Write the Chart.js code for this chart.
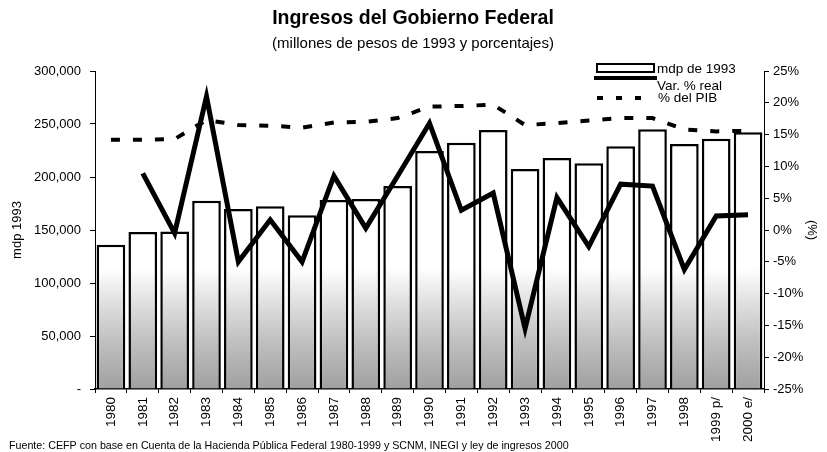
<!DOCTYPE html>
<html>
<head>
<meta charset="utf-8">
<script src="https://cdn.jsdelivr.net/npm/chart.js@4/dist/chart.umd.min.js"></script>
<style>
html,body{margin:0;padding:0;background:#fff;}
#wrap{width:827px;height:452px;position:relative;}
</style>
</head>
<body>
<div id="wrap"><canvas id="c" width="827" height="452"></canvas></div>
<script>
const categories = ['1980','1981','1982','1983','1984','1985','1986','1987','1988','1989','1990','1991','1992','1993','1994','1995','1996','1997','1998','1999 p/','2000 e/'];
const mdp1993 = [136000,148000,148500,177600,169800,172300,163800,178300,179200,191500,224500,232400,244300,207500,217900,212900,229000,245000,231100,236100,242100];
const varReal = [null,8.9,-0.5,21.0,-5.0,1.6,-5.0,8.5,0.3,8.5,16.8,3.1,5.8,-15.5,5.1,-2.6,7.2,6.9,-6.2,2.2,2.4];
const pctPIB = [14.2,14.2,14.3,17.3,16.5,16.4,16.1,16.9,17.0,17.6,19.4,19.5,19.7,16.5,16.8,17.2,17.6,17.6,15.8,15.5,15.6];
const leftTicks = [0,50000,100000,150000,200000,250000,300000];
const rightTicks = [-25,-20,-15,-10,-5,0,5,10,15,20,25];

const FONT = "Arial, 'Liberation Sans', sans-serif";
const titleText = 'Ingresos del Gobierno Federal';
const subtitleText = '(millones de pesos de 1993 y porcentajes)';
const sourceText = 'Fuente: CEFP con base en Cuenta de la Hacienda Pública Federal 1980-1999 y SCNM, INEGI y ley de ingresos 2000';
const legendLabels = ['mdp de 1993','Var. % real','% del PIB'];

function barFill(ctx){
  const chart = ctx.chart;
  const a = chart.chartArea;
  if(!a) return '#ffffff';
  const g = chart.ctx.createLinearGradient(0, a.top, 0, a.bottom);
  g.addColorStop(0, '#ffffff');
  g.addColorStop(0.62, '#ffffff');
  g.addColorStop(0.72, '#e2e2e2');
  g.addColorStop(0.85, '#c0c0c0');
  g.addColorStop(1, '#a0a0a0');
  return g;
}

const extras = {
  id:'extras',
  afterDraw(chart){
    const c = chart.ctx;
    c.save();
    c.fillStyle = '#000';
    c.textAlign = 'center';
    c.textBaseline = 'middle';
    c.font = 'bold 19.5px ' + FONT;
    c.fillText(titleText, 413, 19);
    c.font = '15px ' + FONT;
    c.fillText(subtitleText, 413, 44);
    // source
    c.textAlign = 'left';
    c.font = '10.7px ' + FONT;
    c.fillText(sourceText, 9, 446);
    // legend
    c.font = '13.5px ' + FONT;
    c.strokeStyle = '#000';
    c.lineWidth = 2;
    c.fillStyle = '#fff';
    c.fillRect(597, 64, 57, 8);
    c.strokeRect(597, 64, 57, 8);
    c.fillStyle = '#000';
    c.fillText(legendLabels[0], 657, 69);
    c.lineWidth = 4;
    c.beginPath(); c.moveTo(594, 78); c.lineTo(657, 78); c.stroke();
    c.fillText(legendLabels[1], 657, 86);
    c.lineWidth = 4;
    c.setLineDash([6, 13]);
    c.beginPath(); c.moveTo(597, 98); c.lineTo(650, 98); c.stroke();
    c.setLineDash([]);
    c.fillText(legendLabels[2], 658, 98);
    c.restore();
  }
};

new Chart(document.getElementById('c'), {
  data: {
    labels: categories,
    datasets: [
      {type:'line', label: legendLabels[1], data: varReal, yAxisID:'y1', borderColor:'#000', borderWidth:5, pointRadius:0, tension:0, order:0, borderJoinStyle:'miter', borderCapStyle:'butt'},
      {type:'line', label: legendLabels[2], data: pctPIB, yAxisID:'y1', borderColor:'#000', borderWidth:4, borderDash:[9,13], pointRadius:0, tension:0, order:1},
      {type:'bar', label: legendLabels[0], data: mdp1993, yAxisID:'y', backgroundColor: barFill, borderColor:'#000', borderWidth:2.5, categoryPercentage:0.9, barPercentage:1, order:2}
    ]
  },
  options: {
    responsive:false,
    animation:false,
    devicePixelRatio:1,
    layout:{padding:{top:71,left:0,right:0,bottom:0}},
    plugins:{legend:{display:false}, tooltip:{enabled:false}, title:{display:false}},
    scales:{
      x:{
        grid:{display:true, offset:true, drawOnChartArea:false, color:'#000', tickLength:4, lineWidth:1},
        border:{display:true, color:'#000', width:1.5},
        ticks:{color:'#000', font:{family:FONT, size:13.5}, minRotation:90, maxRotation:90, padding:4, autoSkip:false},
        afterFit(s){ s.height = 63; }
      },
      y:{
        position:'left', min:0, max:300000,
        afterBuildTicks(s){ s.ticks = leftTicks.map(v=>({value:v})); },
        grid:{display:true, drawOnChartArea:false, color:'#000', tickLength:5},
        border:{display:true, color:'#000', width:1},
        ticks:{color:'#000', font:{family:FONT, size:13}, padding:9, callback:v=> v===0 ? '-' : v.toLocaleString('en-US')},
        title:{display:true, text:'mdp 1993', color:'#000', font:{family:FONT, size:13}, padding:{top:10,bottom:0}},
        afterFit(s){ s.width = 95; }
      },
      y1:{
        position:'right', min:-25, max:25,
        afterBuildTicks(s){ s.ticks = rightTicks.map(v=>({value:v})); },
        grid:{display:true, drawOnChartArea:false, color:'#000', tickLength:5},
        border:{display:true, color:'#000', width:1},
        ticks:{color:'#000', font:{family:FONT, size:13}, padding:4, callback:v=> v + '%'},
        title:{display:true, text:'(%)', color:'#000', font:{family:FONT, size:13}, padding:{top:8,bottom:0}},
        afterFit(s){ s.width = 63; }
      }
    }
  },
  plugins:[extras]
});
</script>
</body>
</html>
